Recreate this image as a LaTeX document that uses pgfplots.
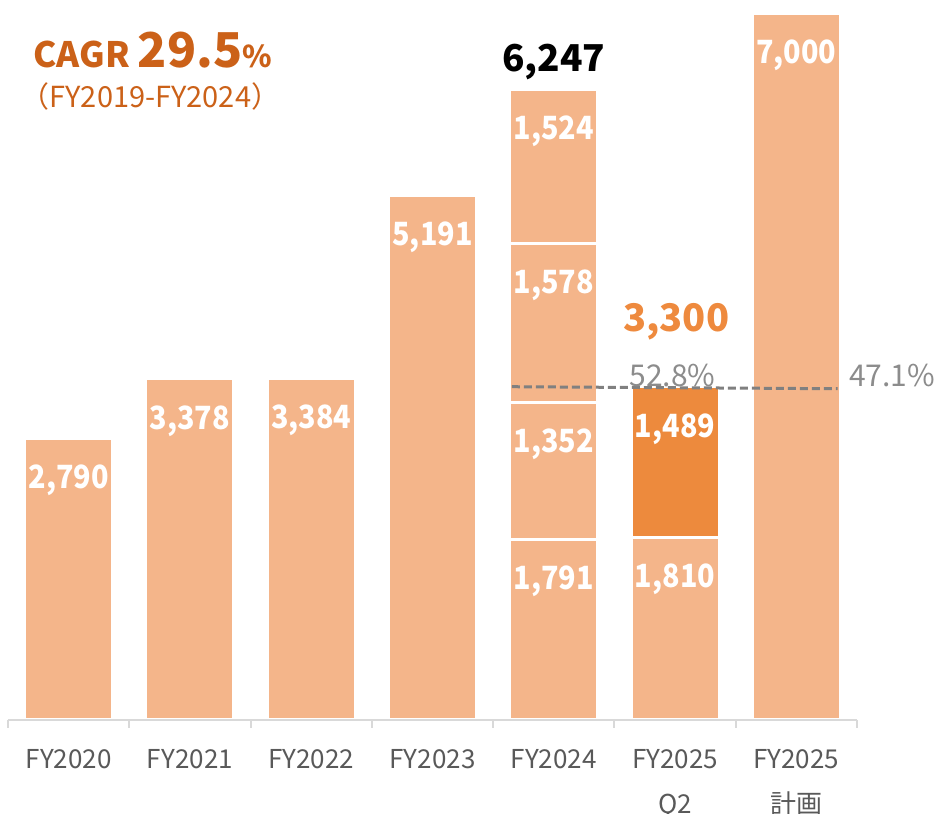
\documentclass[border=0pt]{standalone}
\usepackage{pgfplots}
\pgfplotsset{compat=1.18}
\usepackage{fontspec}
\setmainfont{Noto Sans CJK JP}
\newfontfamily\numfont[FakeStretch=0.9]{Noto Sans CJK JP}
\definecolor{barlight}{HTML}{F4B58A}
\definecolor{bardark}{HTML}{ED8A3D}
\definecolor{cagr}{HTML}{CB6118}
\definecolor{orangetxt}{HTML}{EE8A3E}
\definecolor{graytxt}{HTML}{8C8C8C}
\definecolor{labgray}{HTML}{595959}
\definecolor{axisgray}{HTML}{D9D9D9}
\definecolor{dashgray}{HTML}{808080}
\begin{document}
\begin{tikzpicture}
\begin{axis}[
 name=ax,
 scale only axis, width=424.5pt, height=360pt,
 xmin=-0.5, xmax=6.5, ymin=0, ymax=7129,
 axis x line=bottom, axis y line=none,
 x axis line style={-, draw=axisgray, line width=1pt},
 xtick={0,...,6},
 xticklabels={FY2020,FY2021,FY2022,FY2023,FY2024,{FY2025\\Q2},{FY2025\\計画}},
 major tick length=0pt,
 minor xtick={-0.5,0.5,...,6.5},
 minor tick length=4pt, tick align=outside,
 minor x tick style={draw=axisgray, line width=1pt},
 xticklabel style={font=\fontsize{13}{22.5}\selectfont, text=labgray, align=center, anchor=north, yshift=-11pt},
 ybar, bar width=44pt, bar shift=0pt,
 clip=false, axis on top,
 every node near coord/.append style={anchor=center, yshift=-21pt, text=white, font=\numfont\fontsize{16}{16}\selectfont\bfseries},
]
\addplot[fill=barlight, draw=white, line width=1.5pt, nodes near coords, point meta=explicit symbolic] table[meta=lab] {
x y lab
0 2790 2,790
1 3378 3,378
2 3384 3,384
3 5191 5,191
4 6247 1,524
6 7000 7,000
};
\addplot[fill=barlight, draw=white, line width=1.5pt, nodes near coords, point meta=explicit symbolic] table[meta=lab] {
x y lab
4 4721 1,578
};
\addplot[fill=barlight, draw=white, line width=1.5pt, nodes near coords, point meta=explicit symbolic] table[meta=lab] {
x y lab
4 3143 1,352
};
\addplot[fill=bardark, draw=white, line width=1.5pt, nodes near coords, point meta=explicit symbolic] table[meta=lab] {
x y lab
5 3299 1,489
};
\addplot[fill=barlight, draw=white, line width=1.5pt, nodes near coords, point meta=explicit symbolic] table[meta=lab] {
x y lab
4 1791 1,791
5 1810 1,810
};
\addplot[sharp plot, draw=dashgray, line width=1.5pt, dash pattern=on 4pt off 2pt] coordinates {(3.655,3300) (6.34,3280)};
\node[font=\fontsize{18.5}{18.5}\selectfont\bfseries, text=black, anchor=center, yshift=13.5pt] at (axis cs:4,6247) {6,247};
\node[font=\fontsize{19}{19}\selectfont\bfseries, text=orangetxt, anchor=center, yshift=32.5pt] at (axis cs:5.01,3300) {3,300};
\node[font=\fontsize{15}{15}\selectfont, text=graytxt, anchor=center, yshift=5.5pt] at (axis cs:4.98,3300) {52.8\%};
\node[font=\fontsize{15}{15}\selectfont, text=graytxt, anchor=center, yshift=5.5pt] at (axis cs:6.79,3300) {47.1\%};
\node[inner sep=0pt, anchor=base west, text=cagr] at (axis cs:-0.294,6465) {\fontsize{17.5}{17.5}\selectfont\bfseries CAGR \fontsize{24}{24}\selectfont 29.5\fontsize{15}{15}\selectfont\%};
\node[inner sep=0pt, anchor=base west, text=cagr, font=\fontsize{14.5}{14.5}\selectfont] at (axis cs:-0.4,6060) {（FY2019-FY2024）};
\end{axis}
\pgfresetboundingbox
\path ([shift={(-4pt,-47pt)}]ax.south west) rectangle ([shift={(465pt,360pt)}]ax.south west);
\end{tikzpicture}
\end{document}
